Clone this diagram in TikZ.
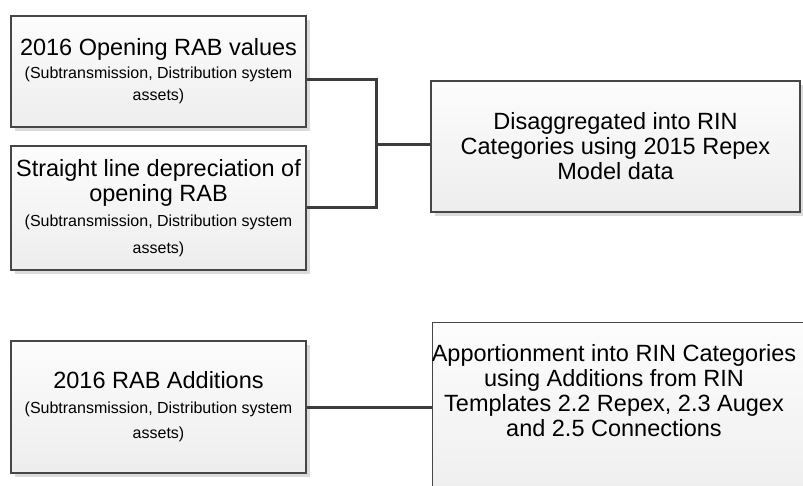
\documentclass[tikz,border=0pt]{standalone}
\usepackage{fontspec}
\setmainfont{Liberation Sans}
\usetikzlibrary{shadows}
\definecolor{boxedge}{RGB}{70,70,70}
\definecolor{linkgray}{RGB}{60,60,60}
\newcommand{\notesize}{\fontsize{16}{21}\selectfont}

\begin{document}
\begin{tikzpicture}[x=1pt, y=1pt,
  font=\fontsize{23.5}{25}\selectfont,
  stepbox/.style={draw=boxedge, line width=1.4pt, align=center, inner sep=0pt,
    top color=gray!2, bottom color=gray!14,
    drop shadow={shadow xshift=4pt, shadow yshift=-4pt, fill=gray!28, opacity=1}},
  link/.style={draw=linkgray, line width=3pt}]
  \useasboundingbox (0,0) rectangle (803,485);
  \clip (0,0) rectangle (803,485);
  % left column
  \node[stepbox, minimum width=295, minimum height=111] (open) at (158.5,413.5)
    {2016 Opening RAB values\\[-2pt] \notesize (Subtransmission, Distribution system\\[-3pt] \notesize assets)};
  \node[stepbox, minimum width=295, minimum height=124] (depr) at (158.5,277)
    {Straight line depreciation of\\ opening RAB\\ \notesize (Subtransmission, Distribution system\\[2pt] \notesize assets)};
  \node[stepbox, minimum width=295, minimum height=132] (addn) at (158.5,78)
    {2016 RAB Additions\\ \notesize (Subtransmission, Distribution system\\ \notesize assets)};
  % right column
  \node[stepbox, minimum width=369, minimum height=131] (disagg) at (615.5,338.5)
    {Disaggregated into RIN\\ Categories using 2015 Repex\\ Model data};
  \node[stepbox, minimum width=400, minimum height=190, anchor=north west] (appo) at (432,163) {};
  \node[align=center] (appotxt) at (614,94)
    {Apportionment into RIN Categories\\ using Additions from RIN\\ Templates 2.2 Repex, 2.3 Augex\\ and 2.5 Connections};
  % connectors
  \coordinate (jn) at (376,340);
  \draw[link] ([yshift=-8.5]open.east) -| (jn) |- (depr.east);
  \draw[link] (jn) -- (jn -| disagg.west);
  \draw[link] (addn.east) -- (addn.east -| appo.west);
\end{tikzpicture}
\end{document}
